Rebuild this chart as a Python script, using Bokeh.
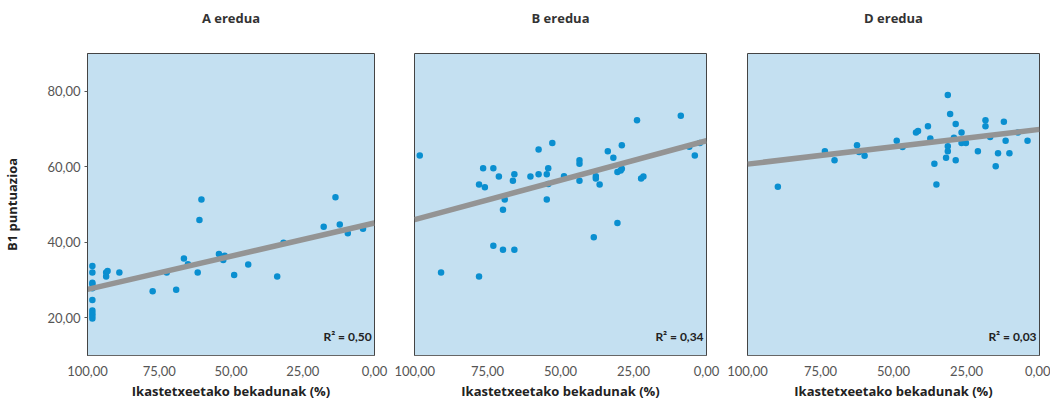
from bokeh.plotting import figure
from bokeh.models import Range1d, FixedTicker, LinearAxis, ColumnDataSource
from bokeh.layouts import row
from bokeh.embed import file_html
from bokeh.resources import INLINE
from bokeh.core.properties import value

# ---------------- data ----------------
panel_titles = ["A eredua", "B eredua", "D eredua"]
x_label = "Ikastetxeetako bekadunak (%)"
y_label = "B1 puntuazioa"
r2_labels = ["R\u00b2 = 0,50", "R\u00b2 = 0,34", "R\u00b2 = 0,03"]

x_ticks = [100, 75, 50, 25, 0]
x_tick_labels = ["100,00", "75,00", "50,00", "25,00", "0,00"]
y_ticks = [20, 40, 60, 80]
y_tick_labels = ["20,00", "40,00", "60,00", "80,00"]

a_x = [98.3, 98.3, 98.3, 98.3, 98.3, 98.3, 98.3, 98.3, 98.3, 98.3, 93.5, 93.5, 93.0, 88.9,
       77.3, 72.4, 69.1, 66.4, 65.0, 61.6, 61.0, 60.3, 54.2, 52.7, 52.2, 48.9, 44.0, 33.9,
       31.7, 17.7, 13.6, 12.1, 9.3, 4.0]
a_y = [33.7, 32.0, 29.3, 28.9, 27.8, 24.7, 21.9, 21.2, 20.5, 19.8, 32.0, 30.9, 32.4, 32.0,
       27.0, 32.0, 27.4, 35.7, 34.2, 32.0, 45.9, 51.3, 36.9, 35.3, 36.4, 31.3, 34.1, 30.9,
       39.9, 44.1, 51.9, 44.7, 42.4, 43.6]

b_x = [98.2, 90.9, 77.9, 77.9, 75.9, 76.5, 73.0, 73.0, 71.1, 69.7, 69.7, 69.1, 66.3, 65.8,
       65.8, 60.3, 57.5, 57.5, 54.7, 54.7, 54.2, 54.2, 52.8, 48.8, 43.5, 43.5, 43.5, 38.6,
       37.9, 37.9, 36.6, 33.8, 31.9, 30.5, 30.5, 29.4, 29.0, 29.0, 23.8, 22.4, 21.6, 8.8,
       5.9, 4.0, 2.3]
b_y = [63.0, 32.0, 30.9, 55.3, 54.6, 59.6, 59.6, 39.1, 57.4, 48.6, 38.0, 51.3, 56.3, 58.0,
       38.0, 57.4, 58.0, 64.6, 58.0, 51.3, 59.6, 55.4, 66.3, 57.5, 61.7, 60.8, 56.3, 41.3,
       57.5, 56.9, 55.3, 64.1, 62.4, 45.1, 58.6, 59.0, 59.5, 65.7, 72.3, 56.9, 57.4, 73.5,
       65.3, 63.0, 66.3]

d_x = [89.6, 73.5, 70.2, 62.5, 61.8, 59.9, 48.9, 46.9, 42.3, 41.6, 38.2, 37.4, 36.0, 35.3,
       32.0, 31.4, 31.4, 31.4, 30.6, 29.3, 28.7, 28.7, 26.7, 26.7, 25.2, 21.1, 18.5, 18.5,
       16.9, 15.0, 14.2, 12.2, 11.6, 10.3, 7.4, 4.1]
d_y = [54.7, 64.1, 61.7, 65.7, 63.9, 62.9, 66.9, 65.2, 69.1, 69.5, 70.7, 67.5, 60.8, 55.3,
       62.4, 79.0, 65.4, 64.1, 74.0, 67.7, 71.3, 61.7, 69.1, 66.3, 66.3, 64.1, 72.3, 70.7,
       67.9, 60.1, 63.6, 71.9, 66.9, 63.6, 69.1, 66.9]

# linear fit: predicted score at 0 % and slope per percentage point
fit_intercepts = [45.1, 66.9, 69.9]
fit_slopes = [-0.176, -0.209, -0.092]

panels_x = [a_x, b_x, d_x]
panels_y = [a_y, b_y, d_y]

# ---------------- style ----------------
BG = "#c4e0f1"
DOT = "#0a8fd0"
LINE = "#949494"
FONT = "Open Sans"
TICKFONT = "Lato"

FRAME_W = 292
FRAME_H = 302
TOP = 53
FIG_H = 404
borders_left = [82, 20, 21]
borders_right = [20, 20, 11]

figs = []
for i in range(3):
    w = borders_left[i] + FRAME_W + borders_right[i]
    p = figure(width=w, height=FIG_H, output_backend="svg", toolbar_location=None,
               x_range=Range1d(100, 0), y_range=Range1d(10, 90),
               min_border_left=borders_left[i], min_border_right=borders_right[i],
               min_border_top=TOP, min_border_bottom=FIG_H - TOP - FRAME_H)
    p.background_fill_color = BG
    p.border_fill_color = "white"
    p.outline_line_color = "#444444"
    p.outline_line_width = 1
    p.grid.grid_line_color = None

    xa = p.below[0]
    ya = p.left[0]

    # panel title drawn as the label of an empty top axis
    top_axis = LinearAxis(ticker=FixedTicker(ticks=[]), axis_line_color=None,
                          major_tick_line_color=None, minor_tick_line_color=None,
                          major_label_text_font_size="0px",
                          axis_label=panel_titles[i], axis_label_text_font=FONT,
                          axis_label_text_font_size="13px", axis_label_text_font_style="bold",
                          axis_label_text_color="#333333", axis_label_standoff=27)
    p.add_layout(top_axis, "above")

    xa.ticker = FixedTicker(ticks=x_ticks)
    xa.major_label_overrides = {t_: l for t_, l in zip(x_ticks, x_tick_labels)}
    xa.major_label_text_font = TICKFONT
    xa.major_label_text_font_size = "13px"
    xa.major_label_text_color = "#555555"
    xa.major_label_standoff = 10
    xa.major_tick_out = 0
    xa.major_tick_in = 0
    xa.minor_tick_line_color = None
    xa.axis_line_color = "#666666"
    xa.axis_label = x_label
    xa.axis_label_text_font = FONT
    xa.axis_label_text_font_size = "13px"
    xa.axis_label_text_font_style = "bold"
    xa.axis_label_text_color = "#222222"
    xa.axis_label_standoff = 3

    if i == 0:
        ya.ticker = FixedTicker(ticks=y_ticks)
        ya.major_label_overrides = {t_: l for t_, l in zip(y_ticks, y_tick_labels)}
        ya.major_label_text_font = TICKFONT
        ya.major_label_text_font_size = "13px"
        ya.major_label_text_color = "#555555"
        ya.major_label_standoff = 4
        ya.major_tick_out = 3
        ya.major_tick_in = 0
        ya.major_tick_line_color = "#555555"
        ya.minor_tick_line_color = None
        ya.axis_line_color = "#444444"
        ya.axis_label = y_label
        ya.axis_label_text_font = FONT
        ya.axis_label_text_font_size = "13px"
        ya.axis_label_text_font_style = "bold"
        ya.axis_label_text_color = "#222222"
        ya.axis_label_standoff = 23
    else:
        ya.visible = False

    src = ColumnDataSource(dict(x=panels_x[i], y=panels_y[i]))
    p.scatter("x", "y", source=src, size=6.5, fill_color=DOT, line_color=None)

    x0, x1 = p.x_range.start, p.x_range.end
    lx = [x0, x1]
    ly = [fit_intercepts[i] + fit_slopes[i] * v for v in lx]
    p.line(lx, ly, line_color=LINE, line_width=5.5)

    p.text(x=[1.0], y=[15], text=[r2_labels[i]], text_align="right", text_baseline="middle",
           text_font=value(TICKFONT), text_font_size="12px", text_font_style="bold",
           text_color="#222222")
    figs.append(p)

layout = row(*figs, spacing=0)
open("out.html", "w").write(file_html(layout, INLINE))
